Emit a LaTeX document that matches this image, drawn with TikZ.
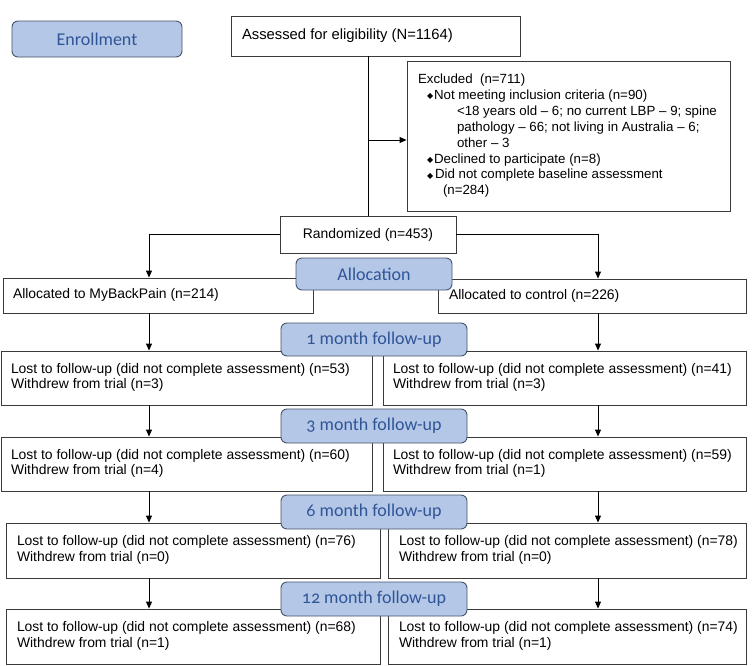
\documentclass[tikz,border=0pt]{standalone}
\usepackage{fontspec}
\setmainfont{Liberation Sans}
\newfontfamily\labfont{Carlito}[Numbers=OldStyle]
\newfontfamily\dejavu{DejaVu Sans}
\usetikzlibrary{arrows.meta}
\definecolor{labfill}{HTML}{B4C7E7}
\definecolor{labdraw}{HTML}{44546A}
\definecolor{labtext}{HTML}{2F5597}
\definecolor{boxdraw}{HTML}{3A3A3A}
\newcommand\txtblock[2]{\raisebox{-1.5pt}{\makebox[#1][l]{\begin{tabular}{@{}l@{}}#2\end{tabular}}}}
\newcommand\bul{\makebox[6pt][l]{\hspace*{-1pt}\raisebox{0.5pt}{\dejavu\fontsize{8}{8}\selectfont ◆}}}
\begin{document}
\begin{tikzpicture}[x=1pt,y=-1pt,
 box/.style={draw=boxdraw, line width=0.9pt, inner ysep=0pt, inner xsep=10pt,
   font=\fontsize{13.9}{15.6}\selectfont, fill=white},
 lab/.style={draw=labdraw, fill=labfill, line width=0.9pt, rounded corners=6pt,
   text=labtext, font=\labfont\fontsize{18}{20}\selectfont, inner sep=0pt},
 arr/.style={draw=black, line width=0.9pt, -{Triangle[width=6pt,length=7pt]}},
 conn/.style={draw=black, line width=0.9pt}]
\useasboundingbox (0,0) rectangle (752,665);
\fill[white] (0,0) rectangle (752,665);

% boxes
\node[box, inner xsep=11pt, minimum width=289pt, minimum height=40pt,
  font=\fontsize{14.8}{16}\selectfont] (assess) at (375.5,36)
  {\txtblock{267pt}{Assessed for eligibility (N=1164)}};
\node[box, inner xsep=11pt, minimum width=323pt, minimum height=150pt,
  font=\fontsize{13.3}{15.9}\selectfont] (excl) at (568.5,136)
  {\txtblock{301pt}{Excluded\ \ (n=711)\\
  \hspace*{10pt}\bul Not meeting inclusion criteria (n=90)\\
  \hspace*{39pt}<18 years old – 6; no current LBP – 9; spine\\
  \hspace*{39pt}pathology – 66; not living in Australia – 6;\\
  \hspace*{39pt}other – 3\\
  \hspace*{10pt}\bul Declined to participate (n=8)\\
  \hspace*{10pt}\bul\hspace{1pt}Did not complete baseline assessment\\
  \hspace*{25pt}(n=284)}};
\node[box, minimum width=176pt, minimum height=37pt] (rand) at (368,234.5)
  {\raisebox{-1pt}{Randomized (n=453)}};
\node[box, minimum width=310pt, minimum height=35pt] (mbp) at (158,295.5)
  {\txtblock{290pt}{Allocated to MyBackPain (n=214)}};
\node[box, inner xsep=11pt, minimum width=308pt, minimum height=34pt] (ctl) at (592,296)
  {\txtblock{286pt}{Allocated to control (n=226)}};

\node[box, minimum width=371pt, minimum height=54pt] (l1) at (186.5,378)
  {\txtblock{351pt}{Lost to follow-up (did not complete assessment) (n=53)\\Withdrew from trial (n=3)}};
\node[box, minimum width=363pt, minimum height=54pt] (r1) at (564.5,378)
  {\txtblock{343pt}{Lost to follow-up (did not complete assessment) (n=41)\\Withdrew from trial (n=3)}};
\node[box, minimum width=371pt, minimum height=54pt] (l2) at (186.5,464)
  {\txtblock{351pt}{Lost to follow-up (did not complete assessment) (n=60)\\Withdrew from trial (n=4)}};
\node[box, minimum width=363pt, minimum height=54pt] (r2) at (564.5,464)
  {\txtblock{343pt}{Lost to follow-up (did not complete assessment) (n=59)\\Withdrew from trial (n=1)}};
\node[box, inner xsep=11pt, minimum width=374pt, minimum height=55pt] (l3) at (193,550.5)
  {\txtblock{352pt}{Lost to follow-up (did not complete assessment) (n=76)\\Withdrew from trial (n=0)}};
\node[box, inner xsep=11pt, minimum width=358pt, minimum height=55pt] (r3) at (567,550.5)
  {\txtblock{336pt}{Lost to follow-up (did not complete assessment) (n=78)\\Withdrew from trial (n=0)}};
\node[box, inner xsep=11pt, minimum width=374pt, minimum height=55pt] (l4) at (193,636.5)
  {\txtblock{352pt}{Lost to follow-up (did not complete assessment) (n=68)\\Withdrew from trial (n=1)}};
\node[box, inner xsep=11pt, minimum width=358pt, minimum height=55pt] (r4) at (567,636.5)
  {\txtblock{336pt}{Lost to follow-up (did not complete assessment) (n=74)\\Withdrew from trial (n=1)}};

% connectors
\coordinate (L) at (149,0);
\coordinate (R) at (598,0);
\draw[conn] (assess.south -| rand.north) -- (rand.north);
\draw[arr] ([yshift=-4pt]excl.west -| rand.north) -- ([yshift=-4pt]excl.west);
\draw[arr] (rand.west) -| (L |- mbp.north);
\draw[arr] (rand.east) -| (R |- ctl.north);
\draw[arr] (L |- mbp.south) -- (L |- l1.north);
\draw[arr] (R |- ctl.south) -- (R |- r1.north);
\draw[arr] (L |- l1.south) -- (L |- l2.north);
\draw[arr] (R |- r1.south) -- (R |- r2.north);
\draw[arr] (L |- l2.south) -- (L |- l3.north);
\draw[arr] (R |- r2.south) -- (R |- r3.north);
\draw[arr] (L |- l3.south) -- (L |- l4.north);
\draw[arr] (R |- r3.south) -- (R |- r4.north);

% stage labels
\node[lab, minimum width=170pt, minimum height=36pt] (enr) at (97,39) {Enrollment};
\node[lab, minimum width=156pt, minimum height=32pt] (alloc) at (374,274) {Allocation};
\node[lab, minimum width=186pt, minimum height=33pt] (f1) at (374,339.5) {1 month follow-up};
\node[lab, minimum width=186pt, minimum height=34pt] (f3) at (374,426) {3 month follow-up};
\node[lab, minimum width=186pt, minimum height=34pt] (f6) at (374,512) {6 month follow-up};
\node[lab, minimum width=186pt, minimum height=34pt] (f12) at (374,599) {12 month follow-up};
\end{tikzpicture}
\end{document}
